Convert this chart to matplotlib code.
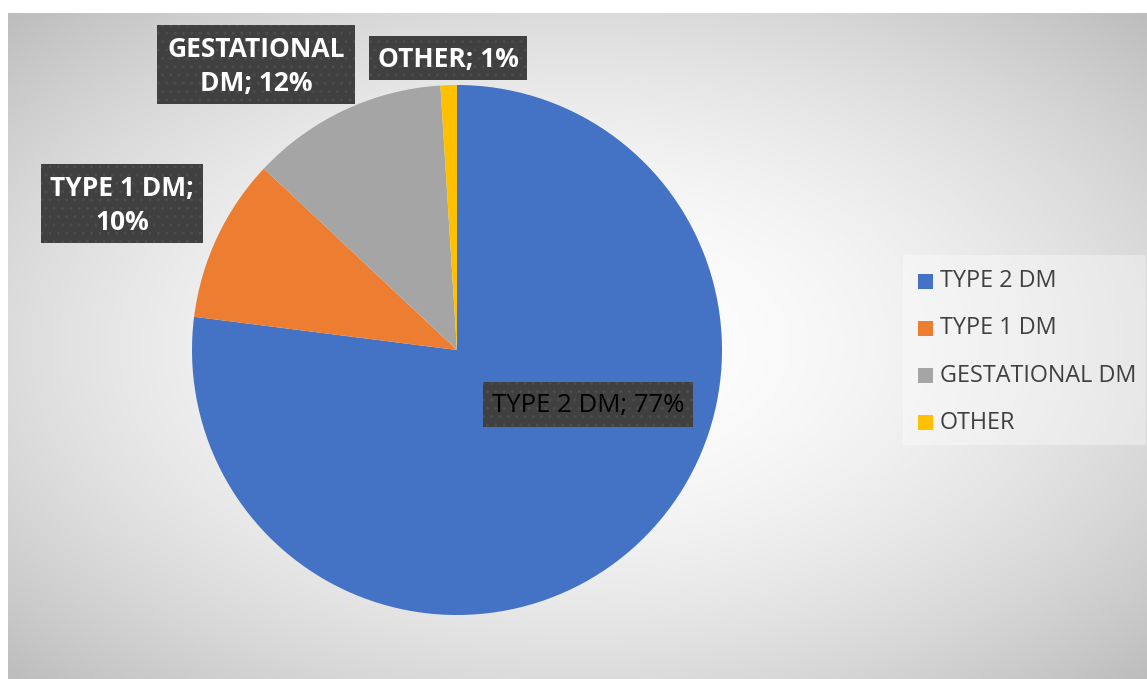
import numpy as np
import matplotlib
matplotlib.use("Agg")
import matplotlib.pyplot as plt
from matplotlib.patches import Rectangle

categories = ["TYPE 2 DM", "TYPE 1 DM", "GESTATIONAL DM", "OTHER"]
values = [77, 10, 12, 1]
colors = ["#4472C4", "#ED7D31", "#A5A5A5", "#FFC000"]
# how each data label wraps (None = single line "CAT; V%")
label_wrap = [None, "TYPE 1 DM;\n{v}%", "GESTATIONAL\nDM; {v}%", None]

W, H = 1147, 679
plt.rcParams['font.family'] = ['Open Sans', 'DejaVu Sans']
fig = plt.figure(figsize=(W / 100, H / 100), dpi=100)
fig.patch.set_facecolor("white")


def fx(x):
    return x / W


def fy(y):
    return 1 - y / H


# ---- background radial gradient ----
bx0, by0, bx1, by1 = 8, 13, 1147, 679
bg = fig.add_axes([fx(bx0), fy(by1), fx(bx1 - bx0), (by1 - by0) / H])
bg.set_axis_off()
nx, ny = 400, 240
xx, yy = np.meshgrid(np.linspace(-1, 1, nx), np.linspace(-1, 1, ny))
r = np.sqrt(xx ** 2 + yy ** 2) / np.sqrt(2)
g = (255 - 66 * np.clip(r, 0, 1) ** 1.8) / 255
img = np.dstack([g, g, g])
bg.imshow(img, extent=[0, 1, 0, 1], aspect='auto', interpolation='bilinear')
bg.set_xlim(0, 1)
bg.set_ylim(0, 1)

# legend background overlay
fig.patches.append(Rectangle((fx(903), fy(445)), fx(1146 - 903), (445 - 255) / H,
                             transform=fig.transFigure, facecolor="white",
                             alpha=0.35, edgecolor="none", zorder=1))

# ---- pie ----
cx, cy, rad = 457, 350, 265
ax = fig.add_axes([fx(cx - rad), fy(cy + rad), fx(2 * rad), 2 * rad / H])
ax.pie(values, colors=colors, startangle=90, counterclock=False, radius=1,
       wedgeprops=dict(linewidth=0))
ax.set_xlim(-1, 1)
ax.set_ylim(-1, 1)
ax.set_aspect('auto')
ax.set_axis_off()

# ---- data labels ----
plt.rcParams['hatch.linewidth'] = 1.0
boxes = [  # (x0, y0, x1, y1) in px
    (483, 382, 693, 427),
    (41, 164, 203, 243),
    (157, 25, 355, 104),
    (369, 36, 527, 80),
]
for i, (cat, v) in enumerate(zip(categories, values)):
    x0, y0, x1, y1 = boxes[i]
    fig.patches.append(Rectangle((fx(x0), fy(y1)), fx(x1 - x0), (y1 - y0) / H,
                                 transform=fig.transFigure, facecolor="#404040",
                                 edgecolor="#4c4c4c", linewidth=0, hatch="..",
                                 zorder=3))
    if label_wrap[i]:
        txt = label_wrap[i].format(v=v)
    else:
        txt = f"{cat}; {v}%"
    if i == 0:
        fig.text(fx((x0 + x1) / 2), fy((y0 + y1) / 2 + 1), txt, ha="center",
                 va="center", fontsize=18.5, color="black", zorder=4)
    else:
        fig.text(fx((x0 + x1) / 2), fy((y0 + y1) / 2 + 2), txt, ha="center",
                 va="center", fontsize=19, color="white", fontweight="bold",
                 linespacing=1.3, zorder=4)

# ---- legend ----
ly0, lstep = 281, 47.3
for i, (cat, col) in enumerate(zip(categories, colors)):
    y = ly0 + i * lstep
    fig.patches.append(Rectangle((fx(918), fy(y + 7.5)), fx(15), 15 / H,
                                 transform=fig.transFigure, facecolor=col,
                                 edgecolor="none", zorder=4))
    fig.text(fx(940), fy(y), cat, ha="left", va="center", fontsize=16.8,
             color="#404040", zorder=4)

fig.savefig("out.png", dpi=100)
